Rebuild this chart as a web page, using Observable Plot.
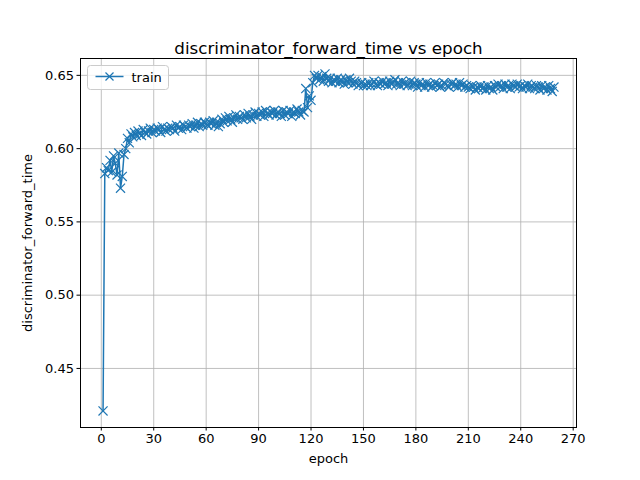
<!DOCTYPE html>
<html><head><meta charset="utf-8">
<script src="https://cdn.jsdelivr.net/npm/d3@7"></script>
<script src="https://cdn.jsdelivr.net/npm/@observablehq/plot@0.6"></script>
<style>body{margin:0;background:#fff}svg{display:block}</style>
</head><body><div id="chart"></div>
<script>
const startEpoch = 1;
const trainValues = [
0.421,0.583,0.587,0.585,0.592,0.584,0.595,0.590,0.582,0.597,
0.573,0.581,0.596,0.600,0.607,0.604,0.610,0.608,0.611,0.609,
0.612,0.610,0.609,0.613,0.611,0.610,0.612,0.614,0.611,0.613,
0.612,0.614,0.613,0.611,0.615,0.613,0.612,0.614,0.613,0.615,
0.614,0.612,0.616,0.614,0.615,0.613,0.616,0.615,0.614,0.616,
0.615,0.617,0.614,0.616,0.618,0.615,0.617,0.616,0.618,0.617,
0.616,0.618,0.617,0.619,0.616,0.618,0.615,0.617,0.620,0.618,
0.621,0.619,0.622,0.620,0.618,0.621,0.623,0.620,0.622,0.621,
0.620,0.623,0.621,0.624,0.622,0.620,0.623,0.625,0.622,0.624,
0.623,0.625,0.622,0.626,0.624,0.623,0.625,0.624,0.626,0.623,
0.625,0.624,0.622,0.626,0.623,0.625,0.624,0.626,0.622,0.625,
0.624,0.627,0.625,0.623,0.626,0.625,0.641,0.628,0.636,0.633,
0.645,0.650,0.648,0.650,0.647,0.649,0.646,0.651,0.648,0.646,
0.648,0.645,0.647,0.646,0.648,0.645,0.647,0.646,0.644,0.647,
0.645,0.648,0.646,0.644,0.646,0.645,0.643,0.644,0.645,0.643,
0.644,0.643,0.645,0.643,0.644,0.646,0.644,0.643,0.645,0.644,
0.646,0.644,0.645,0.643,0.646,0.644,0.645,0.647,0.644,0.645,
0.643,0.646,0.644,0.645,0.643,0.644,0.646,0.643,0.645,0.644,
0.642,0.645,0.643,0.644,0.642,0.645,0.643,0.644,0.642,0.643,
0.645,0.643,0.644,0.642,0.643,0.645,0.644,0.643,0.642,0.644,
0.645,0.643,0.644,0.642,0.645,0.643,0.644,0.642,0.643,0.642,
0.641,0.643,0.642,0.640,0.642,0.641,0.643,0.641,0.642,0.640,
0.643,0.641,0.642,0.640,0.643,0.642,0.644,0.642,0.643,0.641,
0.644,0.642,0.643,0.641,0.644,0.643,0.642,0.644,0.642,0.643,
0.641,0.643,0.642,0.644,0.641,0.643,0.642,0.641,0.643,0.642,
0.640,0.643,0.641,0.642,0.640,0.643,0.641,0.639,0.642
];
const xTicks = [0,30,60,90,120,150,180,210,240,270];
const yTicks = [0.45,0.50,0.55,0.60,0.65];
const seriesName = "train";
const titleText = "discriminator_forward_time vs epoch";
const xLabel = "epoch";
const yLabel = "discriminator_forward_time";

const data = trainValues.map((v,i)=>({epoch: startEpoch+i, value: v}));
const color = "#1f77b4";
const font = "DejaVu Sans, sans-serif";

const chart = Plot.plot({
  width: 640, height: 480,
  marginLeft: 80, marginRight: 64, marginTop: 58, marginBottom: 53,
  style: {fontFamily: font, fontSize: "13px", background: "#fff", color: "#000"},
  x: {domain: [-11.9, 271.9], ticks: xTicks, label: null},
  y: {domain: [0.4097, 0.6615], ticks: yTicks, label: null, tickFormat: d3.format(".2f")},
  marks: [
    Plot.gridX(xTicks, {stroke: "#b0b0b0", strokeOpacity: 1, strokeWidth: 0.8}),
    Plot.gridY(yTicks, {stroke: "#b0b0b0", strokeOpacity: 1, strokeWidth: 0.8}),
    Plot.line(data, {x: "epoch", y: "value", stroke: color, strokeWidth: 1.5}),
    Plot.dot(data, {x: "epoch", y: "value", symbol: "times", r: 4.2, stroke: color, strokeWidth: 1.2, fill: "none"}),
    Plot.frame({stroke: "#000", strokeWidth: 1}),
    Plot.axisX(xTicks, {tickSize: 3.5, tickPadding: 3, fontSize: 13, stroke: "#000"}),
    Plot.axisY(yTicks, {tickSize: 3.5, tickPadding: 3, fontSize: 13, stroke: "#000", tickFormat: d3.format(".2f")}),
    Plot.text([titleText], {frameAnchor: "top", dy: -16, fontSize: 16.7, fill: "#000"}),
    Plot.text([xLabel], {frameAnchor: "bottom", dy: 35, fontSize: 13, fill: "#000"}),
    Plot.text([yLabel], {frameAnchor: "left", textAnchor: "middle", dx: -53, rotate: -90, fontSize: 13, fill: "#000"})
  ]
});
document.getElementById("chart").appendChild(chart);

// legend
const svg = d3.select(chart);
const lg = svg.append("g").attr("transform", "translate(87.5,65.5)");
lg.append("rect").attr("width", 81).attr("height", 24).attr("rx", 3)
  .attr("fill", "#fff").attr("fill-opacity", 0.8).attr("stroke", "#cccccc");
lg.append("line").attr("x1", 8).attr("x2", 36).attr("y1", 11).attr("y2", 11)
  .attr("stroke", color).attr("stroke-width", 1.5);
lg.append("path").attr("d", "M18,7L26,15M18,15L26,7").attr("stroke", color).attr("stroke-width", 1.2);
lg.append("text").attr("x", 44).attr("y", 16).attr("font-family", font).attr("font-size", 13)
  .attr("text-anchor", "start").attr("fill", "#000").text(seriesName);
</script></body></html>
